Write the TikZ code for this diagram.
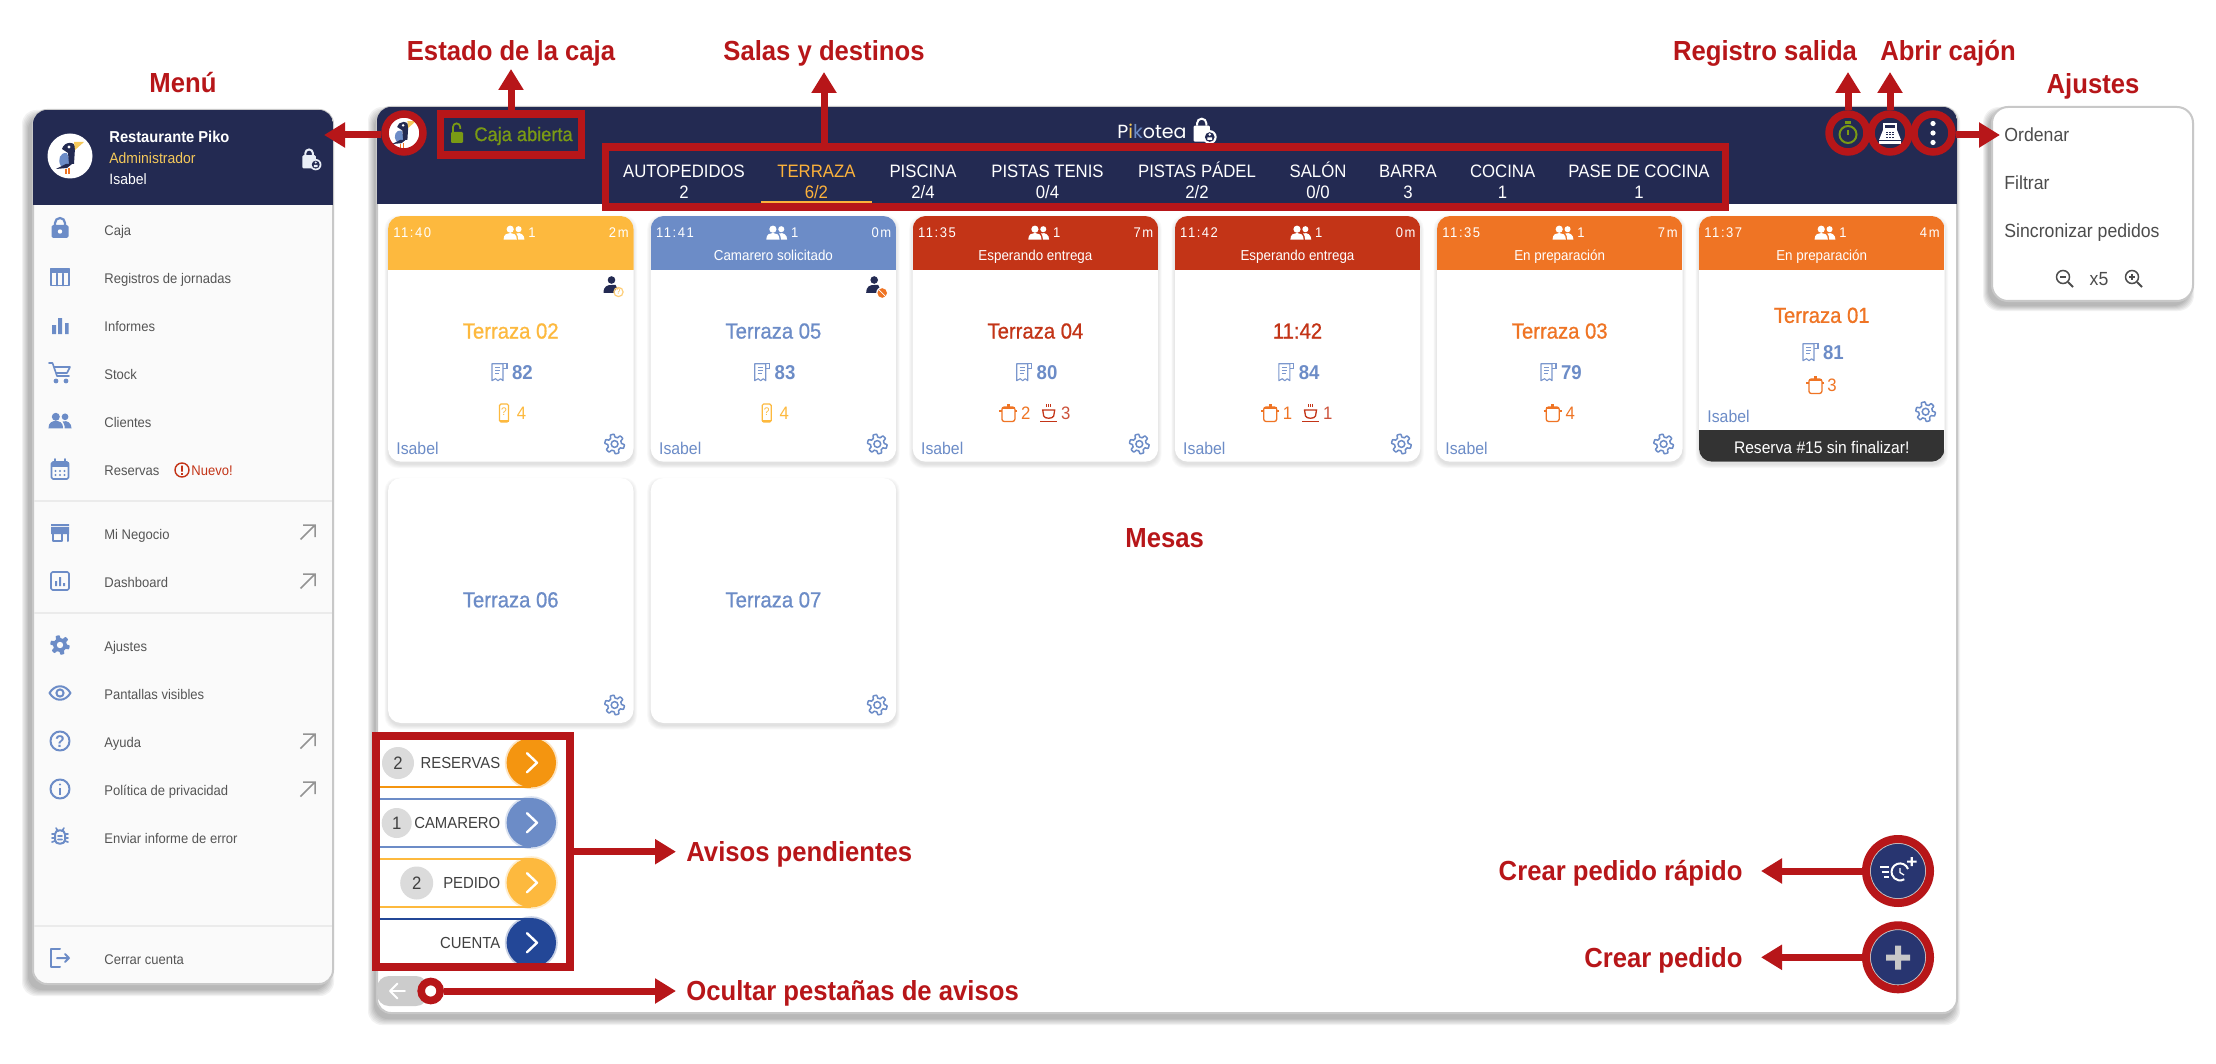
\documentclass[tikz,border=0pt]{standalone}
\usepackage{fontspec}
\setmainfont{Liberation Sans}
\newfontfamily\rb[FakeStretch=0.93]{Liberation Sans}
\newfontfamily\rbm[FakeStretch=0.93,FakeBold=0.8]{Liberation Sans}
\newfontfamily\rbs[FakeStretch=0.93,LetterSpace=11]{Liberation Sans}
\newfontfamily\pop{Poppins}
\usetikzlibrary{arrows.meta,shapes.geometric,calc}
\definecolor{anno}{HTML}{B71619}
\definecolor{navy}{HTML}{232A52}
\definecolor{tyellow}{HTML}{FDB93E}
\definecolor{tblue}{HTML}{6C8CC7}
\definecolor{tred}{HTML}{C33417}
\definecolor{torange}{HTML}{EF7424}
\definecolor{borderg}{HTML}{C8C8C8}
\definecolor{menutxt}{HTML}{555555}
\definecolor{olive}{HTML}{7A9A14}
\definecolor{admin}{HTML}{F5C95B}
\definecolor{res}{HTML}{F49510}
\definecolor{cta}{HTML}{234797}
\definecolor{fabn}{HTML}{283570}
\tikzset{
  f/.style={font=\rb\fontsize{#1}{#1}\selectfont,text height=0.72*#1 pt,text depth=0pt,inner sep=0pt},
  fm/.style={font=\rbm\fontsize{#1}{#1}\selectfont,text height=0.72*#1 pt,text depth=0pt,inner sep=0pt},
  fb/.style={font=\rb\bfseries\fontsize{#1}{#1}\selectfont,text height=0.72*#1 pt,text depth=0pt,inner sep=0pt},
  fs/.style={font=\rbs\fontsize{#1}{#1}\selectfont,text height=0.72*#1 pt,text depth=0pt,inner sep=0pt},
  lbl/.style={fb=13.8,text=anno},
  mitem/.style={f=7,text=menutxt,anchor=west},
  ring/.style={circle,draw=anno,line width=3.75pt,inner sep=0pt,minimum size=#1*0.5pt},
  redbox/.style={draw=anno,line width=3.75pt,inner sep=0pt,rectangle},
  redarrow/.style={draw=anno,line width=3.5pt,-{Triangle[length=10.5pt,width=12pt]}},
  tab/.style={f=9,text=white},
  ic/.style={line width=.8pt,line cap=round,line join=round},
}
\newcommand\softsh[9]{% x1 y1 x2 y2 r dx dy spread alpha
  \foreach \i in {0,...,5}{
    \pgfmathsetmacro\sss{#8*(5-\i)/5}
    \fill[black,opacity=#9,rounded corners=#5*0.5pt]
      ({#1+#6-\sss},{#2+#7-\sss}) rectangle ({#3+#6+\sss},{#4+#7+\sss});
  }}
% menu icons
\newcommand\icLock[3]{\begin{scope}[shift={(#1,#2)}]
  \fill[#3,rounded corners=.8pt] (-8.5,-3) rectangle (8.5,10);
  \draw[#3,line width=1.1pt] (-5,-3) -- (-5,-5) arc[start angle=180,end angle=360,radius=5] -- (5,-3);
  \fill[white] (0,3.5) circle (2.2);
\end{scope}}
\newcommand\icTable[2]{\begin{scope}[shift={(#1,#2)},tblue]
  \draw[ic] (-9,-8.5) rectangle (9,8.5);
  \fill (-9,-8.5) rectangle (9,-3.5);
  \draw[ic] (-3,-3.5) -- (-3,8.5) (3,-3.5) -- (3,8.5);
\end{scope}}
\newcommand\icBars[2]{\begin{scope}[shift={(#1,#2)}]
  \fill[tblue] (-8,-1) rectangle (-4,8) (-2,-8) rectangle (2,8) (5,-3) rectangle (8.5,8);
\end{scope}}
\newcommand\icCart[2]{\begin{scope}[shift={(#1,#2)},tblue]
  \draw[ic] (-11,-10) -- (-7.5,-10) -- (-3,3) -- (9,3) (-6,-6) -- (10,-6) -- (7,0) -- (-4,0);
  \fill (-4,8) circle (2.4) (6,8) circle (2.4);
\end{scope}}
\newcommand\icPeople[4]{\begin{scope}[shift={(#1,#2)},scale=#3]
  \fill[#4] (-4,-4) circle (3.8) (4.8,-4) circle (3.2);
  \fill[#4] (-11,7) .. controls (-11,1) and (-7,0) .. (-4,0) .. controls (-1,0) and (3,1) .. (3,7) -- cycle;
  \fill[#4] (4.5,7) .. controls (4.5,3.5) and (3.5,2) .. (2.5,0.5) .. controls (7,-1) and (11,2) .. (11,7) -- cycle;
\end{scope}}
\newcommand\icCal[2]{\begin{scope}[shift={(#1,#2)},tblue]
  \draw[ic,rounded corners=.8pt] (-8.5,-7) rectangle (8.5,10);
  \fill (-8.5,-7) rectangle (8.5,-2);
  \draw[ic] (-5,-10) -- (-5,-7) (5,-10) -- (5,-7);
  \foreach \a in {-4.5,0,4.5}{\fill (\a,2) circle (1.1) (\a,6) circle (1.1);}
\end{scope}}
\newcommand\icStore[2]{\begin{scope}[shift={(#1,#2)},tblue]
  \fill (-9,-9) rectangle (9,-7) (-9,-6) rectangle (9,1);
  \draw[ic,line width=1pt] (-7.5,1) -- (-7.5,8) -- (2,8) -- (2,1) (7.5,1) -- (7.5,8);
\end{scope}}
\newcommand\icDash[2]{\begin{scope}[shift={(#1,#2)},tblue]
  \draw[ic,rounded corners=.8pt] (-9,-9) rectangle (9,9);
  \fill (-5,0) rectangle (-3,5) (-1,-4) rectangle (1,5) (3,2) rectangle (5,5);
\end{scope}}
\newcommand\gearf[4]{\fill[#3] plot[samples=145,domain=0:360] ({#1+(#4*(8.3+1.5*max(-1,min(1,2.5*sin(6*\x)))))*cos(\x)},{#2+(#4*(8.3+1.5*max(-1,min(1,2.5*sin(6*\x)))))*sin(\x)}) -- cycle;}
\newcommand\gearo[2]{\draw[tblue,line width=.75pt,line join=round] plot[samples=145,domain=0:360] ({#1+(8.3+1.5*max(-1,min(1,2.5*sin(6*\x))))*cos(\x)},{#2+(8.3+1.5*max(-1,min(1,2.5*sin(6*\x))))*sin(\x)}) -- cycle;
  \draw[tblue,line width=.75pt] (#1,#2) circle (3.4);}
\newcommand\icEye[2]{\begin{scope}[shift={(#1,#2)},tblue]
  \draw[ic,line width=1pt] (-10.5,0) .. controls (-5,-9) and (5,-9) .. (10.5,0) .. controls (5,9) and (-5,9) .. (-10.5,0) -- cycle;
  \draw[ic,line width=1pt] (0,0) circle (3.6);
\end{scope}}
\newcommand\icHelp[2]{\begin{scope}[shift={(#1,#2)},tblue]
  \draw[ic,line width=1pt] (0,0) circle (9.5);
  \node[fb=8.5,text=tblue] (q#2) at (0,0) {?};
\end{scope}}
\newcommand\icInfo[2]{\begin{scope}[shift={(#1,#2)},tblue]
  \draw[ic,line width=1pt] (0,0) circle (9.5);
  \fill (-1,-1.5) rectangle (1,5.5);
  \fill (0,-4.5) circle (1.2);
\end{scope}}
\newcommand\icBug[2]{\begin{scope}[shift={(#1,#2)},tblue]
  \draw[ic,line width=1pt] (-5,-3) .. controls (-5,-8) and (5,-8) .. (5,-3) -- (5,3) .. controls (5,8) and (-5,8) .. (-5,3) -- cycle;
  \draw[ic] (-2,-1) -- (2,-1) (-2,2.5) -- (2,2.5) (-8,-3) -- (-5,-3) (-8,1) -- (-5,1) (-8,5) -- (-5,4) (8,-3) -- (5,-3) (8,1) -- (5,1) (8,5) -- (5,4) (-4,-9) -- (-2,-6) (4,-9) -- (2,-6);
\end{scope}}
\newcommand\icOut[2]{\begin{scope}[shift={(#1,#2)},tblue]
  \draw[ic,line width=1pt] (0,-9) -- (-9,-9) -- (-9,9) -- (0,9);
  \draw[ic,line width=1pt] (-3,0) -- (9,0) (5,-4) -- (9,0) -- (5,4);
\end{scope}}
\newcommand\icExt[2]{\begin{scope}[shift={(#1,#2)}]
  \draw[line width=.75pt,color=gray!85] (-7.5,7.5) -- (7,-7) (-5,-7) -- (7,-7) -- (7,5);
\end{scope}}
\newcommand\icLockP[4]{\begin{scope}[shift={(#1,#2)},scale=#3]
  \fill[#4,rounded corners=.6pt] (-9,-3) rectangle (5,11);
  \draw[#4,line width=1pt] (-6,-3) -- (-6,-5) arc[start angle=180,end angle=360,radius=4] -- (2,-3);
  \fill[#4] (5,7) circle (6);
  \fill[navy] (5,7) circle (4.2);
  \fill[#4] (5,4.8) circle (1.2) (3,7.2) rectangle (7,9.5);
\end{scope}}
% card icons
\newcommand\icReceipt[2]{\begin{scope}[shift={(#1,#2)},tblue!90]
  \draw[line width=.55pt,line join=round] (-7,-8) -- (4,-8) -- (4,9) -- (1.5,7) -- (-1,9) -- (-3.5,7) -- (-7,9) -- cycle;
  \draw[line width=.55pt] (4,-8) -- (8,-8) -- (8,-3) -- (4,-3);
  \draw[line width=.55pt] (-4,-4) -- (1,-4) (-4,-1) -- (1,-1) (-4,2) -- (0,2);
\end{scope}}
\newcommand\icPhone[2]{\begin{scope}[shift={(#1,#2)}]
  \draw[tyellow,line width=.6pt,rounded corners=.7pt] (-4.5,-9) rectangle (4.5,9);
  \fill[tyellow] (-4.5,6.5) rectangle (4.5,9);
  \node[f=5.5,text=tyellow] (ph#1) at (0,-1) {?};
\end{scope}}
\newcommand\icPot[2]{\begin{scope}[shift={(#1,#2)},torange]
  \draw[line width=.65pt,rounded corners=1.2pt] (-6.5,-6) rectangle (6.5,8.5);
  \fill (-6.5,-6.5) rectangle (6.5,-4.5);
  \fill (-1.5,-9.5) rectangle (1.5,-6.5);
  \draw[line width=.65pt] (-9,-2) -- (-6.5,-2) (9,-2) -- (6.5,-2);
\end{scope}}
\newcommand\icCup[2]{\begin{scope}[shift={(#1,#2)},tred]
  \draw[line width=.65pt] (-6,-3) -- (6,-3) -- (5,3) .. controls (4,6) and (-4,6) .. (-5,3) -- cycle;
  \draw[line width=.8pt] (-8.5,8.5) -- (8.5,8.5);
  \draw[line width=.5pt] (-2,-9) -- (-2,-6) (0,-9) -- (0,-6) (2,-9) -- (2,-6);
\end{scope}}
\newcommand\icPerson[3]{\begin{scope}[shift={(#1,#2)}]
  \fill[navy] (0,-6) circle (3.8);
  \fill[navy] (-8,7) .. controls (-8,0) and (-4,-1) .. (0,-1) -- (4,-1) -- (8,7) -- cycle;
  #3
\end{scope}}
% card
\newcommand\cardhead[7]{% id x0 color time mins
  \softsh{#2}{216}{#2+245.5}{461.7}{13}{0}{3}{3.5}{.02}
  \fill[white,rounded corners=6.5pt] (#2,216) rectangle ({#2+245.5},461.7);
  \begin{scope}
    \clip[rounded corners=6.5pt] (#2,216) rectangle ({#2+245.5},461.7);
    \fill[#3] (#2,216) rectangle ({#2+245.5},270);
  \end{scope}
  \node[fs=7,text=white,anchor=west] (#1time) at ({#2+5},232.7) {#4};
  \icPeople{#2+126}{233}{.95}{white}
  \node[f=7,text=white,anchor=west] (#1cnt) at ({#2+140},232.7) {1};
  \node[fs=7,text=white,anchor=east] (#1min) at ({#2+241},232.7) {#5};
  \node[f=#7,text=white] (#1st) at ({#2+122.7},255) {#6};}
\newcommand\cardmain[9]{% id x0 color title num titley numy isabely geary
  \node[fm=10.9,text=#3] (#1title) at ({#2+122.7},#6) {#4};
  \icReceipt{#2+111}{#7}
  \node[fb=10,text=tblue,anchor=west] (#1num) at ({#2+123.6},{#7+1}) {#5};
  \node[f=8.5,text=tblue,anchor=west] (#1isa) at ({#2+8},#8) {Isabel};
  \gearo{#2+226.6}{#9}}
\newcommand\cardempty[3]{% id x0 title
  \softsh{#2}{478}{#2+245.5}{723}{13}{0}{3}{3.5}{.02}
  \fill[white,rounded corners=6.5pt] (#2,478) rectangle ({#2+245.5},723);
  \node[fm=10.9,text=tblue] (#1title) at ({#2+122.7},599.5) {#3};
  \gearo{#2+226.6}{705}}
% aviso tabs
\newcommand\avisotab[4]{% id y color text
  \fill[#3,opacity=.25] (531.3,#2) circle (26.5);
  \fill[#3] (531.3,#2) circle (24.7);
  \draw[white,line width=1.2pt,line cap=round,line join=round] (527,{#2-9.5}) -- (537,#2) -- (527,{#2+9.5});
  \node[f=8,text=black!75,anchor=east] (#1txt) at (500.7,#2) {#4};}
\begin{document}
\begin{tikzpicture}[x=0.5pt,y=-0.5pt]
\useasboundingbox (0,0) rectangle (2216,1064);
\fill[white] (0,0) rectangle (2216,1064);

% ---------- left menu ----------
\softsh{33}{110}{333}{984}{14}{-5}{6}{6}{.05}
\fill[white!98!black,rounded corners=7pt] (33,110) rectangle (333,984);
\draw[borderg,line width=1pt,rounded corners=7pt] (33,110) rectangle (333,984);
\begin{scope}
  \clip[rounded corners=7pt] (33,110) rectangle (333,984);
  \fill[navy] (33,110) rectangle (333,205);
\end{scope}
\fill[white] (70,156) circle (22.5);
\begin{scope}[shift={(70,156)}]
  \fill[tblue] (-9,10) .. controls (-13,4) and (-10,-4) .. (-3,-3) -- (1,9) -- cycle;
  \fill[navy] (-8,-7) .. controls (-6,-15) and (6,-15) .. (5,-8) -- (4,8) -- (-1,8) -- (-2,-3) -- cycle;
  \fill[navy] (-14,13) -- (-4,8) -- (2,8) -- (-3,12) -- cycle;
  \fill[admin] (4,-14) -- (14,-14) -- (5,-6) -- cycle;
  \fill[white] (-1,-9) circle (1.6);
  \draw[torange,line width=.6pt] (-4,13) -- (-4,18) (-1,12) -- (-1,18);
\end{scope}
\node[fb=7.9,text=white,anchor=west] (mhead) at (109,137) {Restaurante Piko};
\node[f=7.5,text=admin,anchor=west] (mrole) at (109,158) {Administrador};
\node[f=7.5,text=white,anchor=west] (muser) at (109,179) {Isabel};
\icLockP{311}{158}{.95}{white!85!tblue}

\draw[black!8,line width=1pt] (34,501) -- (332,501) (34,613) -- (332,613) (34,926) -- (332,926);

\icLock{60}{228}{tblue}
\icTable{60}{277}
\icBars{60}{326}
\icCart{60}{373}
\icPeople{60}{421}{1.05}{tblue}
\icCal{60}{469}
\icStore{60}{533}
\icDash{60}{581}
\gearf{60}{645}{tblue}{1}\fill[white!98!black] (60,645) circle (3.2);
\icEye{60}{693}
\icHelp{60}{741}
\icInfo{60}{789}
\icBug{60}{837}
\icOut{60}{958}

\node[mitem] (m1) at (104,230) {Caja};
\node[mitem] (m2) at (104,278) {Registros de jornadas};
\node[mitem] (m3) at (104,326) {Informes};
\node[mitem] (m4) at (104,374) {Stock};
\node[mitem] (m5) at (104,422) {Clientes};
\node[mitem] (m6) at (104,470) {Reservas};
\begin{scope}[shift={(182,470)}]
  \draw[tred,line width=.7pt] (0,0) circle (7);
  \fill[tred] (-.9,-4.5) rectangle (.9,1.5) (-.9,3) rectangle (.9,4.8);
\end{scope}
\node[f=7,text=tred,anchor=west] (m6b) at (191,470) {Nuevo!};
\node[mitem] (m7) at (104,534) {Mi Negocio};
\node[mitem] (m8) at (104,582) {Dashboard};
\node[mitem] (m9) at (104,646) {Ajustes};
\node[mitem] (m10) at (104,694) {Pantallas visibles};
\node[mitem] (m11) at (104,742) {Ayuda};
\node[mitem] (m12) at (104,790) {Política de privacidad};
\node[mitem] (m13) at (104,838) {Enviar informe de error};
\node[mitem] (m14) at (104,959) {Cerrar cuenta};
\icExt{308}{532}
\icExt{308}{581}
\icExt{308}{741}
\icExt{308}{789}

% ---------- main panel ----------
\softsh{377}{107}{1957}{1013}{14}{-3}{6}{6}{.05}
\fill[white,rounded corners=7pt] (377,107) rectangle (1957,1013);
\draw[borderg,line width=1pt,rounded corners=7pt] (377,107) rectangle (1957,1013);
\begin{scope}
  \clip[rounded corners=7pt] (377,107) rectangle (1957,1013);
  \fill[navy] (377,107) rectangle (1957,204);
\end{scope}

% header content
\fill[white] (404,133) circle (20);
\begin{scope}[shift={(404,133)},scale=.85]
  \fill[tblue] (-9,10) .. controls (-13,4) and (-10,-4) .. (-3,-3) -- (1,9) -- cycle;
  \fill[navy] (-8,-7) .. controls (-6,-15) and (6,-15) .. (5,-8) -- (4,8) -- (-1,8) -- (-2,-3) -- cycle;
  \fill[navy] (-14,13) -- (-4,8) -- (2,8) -- (-3,12) -- cycle;
  \fill[admin] (4,-14) -- (14,-14) -- (5,-6) -- cycle;
  \fill[white] (-1,-9) circle (1.6);
  \draw[torange,line width=.6pt] (-4,13) -- (-4,18) (-1,12) -- (-1,18);
\end{scope}
\begin{scope}[shift={(457,133)}]
  \fill[olive,rounded corners=.6pt] (-6,-1) rectangle (6,10);
  \draw[olive,line width=.9pt] (-4,-1) -- (-4,-6) arc[start angle=180,end angle=360,radius=3.6] -- (3.2,-4);
\end{scope}
\node[fm=9.8,text=olive,anchor=west] (caja) at (474,134) {Caja abierta};
\node[font=\pop\fontsize{9.5}{10}\selectfont,text=white,inner sep=0pt,anchor=west] (piko) at (1117,131) {P\textcolor{admin}{i}\textcolor{tblue}{k}otea};
\icLockP{1204}{129}{1.15}{white}

\foreach \nm/\cx/\a/\b in {t1/684/AUTOPEDIDOS/2,t3/923/PISCINA/{2/4},t4/1047.5/PISTAS TENIS/{0/4},t5/1197/PISTAS PÁDEL/{2/2},t6/1318/SALÓN/{0/0},t7/1408/BARRA/3,t8/1502.6/COCINA/1,t9/1639/PASE DE COCINA/1}{
  \node[tab] (\nm a) at (\cx,171) {\a};
  \node[tab] (\nm b) at (\cx,192) {\b};
}
\node[tab,text=tyellow!90!torange] (t2a) at (816.4,171) {TERRAZA};
\node[tab,text=tyellow!90!torange] (t2b) at (816.4,192) {6/2};
\fill[tyellow!90!torange] (761,200.7) rectangle (872,202.9);

% clock
\begin{scope}[shift={(1848,133)}]
  \draw[olive,line width=1pt] (0,1.5) circle (8.5);
  \fill[olive] (-3,-11.5) rectangle (3,-9.2);
  \draw[olive,line width=.7pt] (0,-3) -- (0,2);
\end{scope}
% register
\begin{scope}[shift={(1890,133)},white]
  \fill (-7,-10) rectangle (7,-3);
  \fill[navy] (-5,-8) rectangle (5,-5);
  \fill (-7,-3) -- (7,-3) -- (11,7) -- (-11,7) -- cycle;
  \fill (-11,8.5) rectangle (11,11);
  \foreach \a in {-3,0,3}{\foreach \b in {-0.5,2,4.5}{\fill[navy] (\a-.7,\b-.5) rectangle (\a+.7,\b+.5);}}
\end{scope}
% dots
\fill[white] (1933,123.5) circle (2.6) (1933,133) circle (2.6) (1933,142.5) circle (2.6);

% ---------- cards ----------
\cardhead{c1}{388}{tyellow}{11:40}{2m}{}{7.2}
\cardmain{c1}{388}{tyellow}{Terraza 02}{82}{330.7}{371.7}{448}{444}
\icPerson{611.5}{286}{\fill[white] (8,7) circle (5.2);\draw[tyellow!70,line width=.6pt] (7,6) circle (4.6);\node[f=4,text=tyellow] (pq1) at (7,6) {?};}
\icPhone{504}{413}
\node[f=9,text=tyellow] (c1q) at (521.6,413.5) {4};

\cardhead{c2}{650.7}{tblue}{11:41}{0m}{Camarero solicitado}{7.2}
\cardmain{c2}{650.7}{tblue}{Terraza 05}{83}{330.7}{371.7}{448}{444}
\icPerson{874.2}{286}{\fill[white] (8,7) circle (6);\fill[torange] (8,7) circle (4.8);\draw[white,line width=.35pt] (4,3) -- (12,11);}
\icPhone{766.7}{413}
\node[f=9,text=tyellow] (c2q) at (784.3,413.5) {4};

\cardhead{c3}{912.7}{tred}{11:35}{7m}{Esperando entrega}{7.2}
\cardmain{c3}{912.7}{tred}{Terraza 04}{80}{330.7}{371.7}{448}{444}
\icPot{1008.4}{413}
\node[f=9,text=torange] (c3a) at (1025.7,413.5) {2};
\icCup{1048.7}{413}
\node[f=9,text=tred!85] (c3b) at (1065.7,413.5) {3};

\cardhead{c4}{1174.8}{tred}{11:42}{0m}{Esperando entrega}{7.2}
\cardmain{c4}{1174.8}{tred}{11:42}{84}{330.7}{371.7}{448}{444}
\icPot{1270.2}{413}
\node[f=9,text=torange] (c4a) at (1287.4,413.5) {1};
\icCup{1310.5}{413}
\node[f=9,text=tred!85] (c4b) at (1327.8,413.5) {1};

\cardhead{c5}{1437}{torange}{11:35}{7m}{En preparación}{7.2}
\cardmain{c5}{1437}{torange}{Terraza 03}{79}{330.7}{371.7}{448}{444}
\icPot{1552.7}{413}
\node[f=9,text=torange] (c5a) at (1570.3,413.5) {4};

\cardhead{c6}{1699}{torange}{11:37}{4m}{En preparación}{7.2}
\cardmain{c6}{1699}{torange}{Terraza 01}{81}{315}{351.7}{416.7}{411.7}
\icPot{1815.4}{385}
\node[f=9,text=torange] (c6a) at (1832,385.5) {3};
\begin{scope}
  \clip[rounded corners=6.5pt] (1699,216) rectangle (1944.5,461.7);
  \fill[black!80] (1699,430) rectangle (1944.5,461.7);
\end{scope}
\node[f=8.4,text=white] (c6r) at (1821.7,447) {Reserva \#15 sin finalizar!};

\cardempty{c7}{388}{Terraza 06}
\cardempty{c8}{650.7}{Terraza 07}

% ---------- aviso tabs ----------
\draw[res,line width=1pt] (380,786.7) -- (531,786.7);
\draw[tblue,line width=1pt] (380,798.7) -- (531,798.7) (380,846.7) -- (531,846.7);
\draw[tyellow,line width=1pt] (380,859) -- (531,859) (380,906.7) -- (531,906.7);
\draw[cta,line width=1pt] (380,918.7) -- (531,918.7);
\avisotab{a1}{762.7}{res}{RESERVAS}
\avisotab{a2}{822.7}{tblue}{CAMARERO}
\avisotab{a3}{882.7}{tyellow}{PEDIDO}
\avisotab{a4}{942.7}{cta}{CUENTA}
\node[circle,fill=black!14,minimum size=16pt,inner sep=0pt,font=\rb\fontsize{9}{9}\selectfont,text=black!75] (b1) at (398,763) {2};
\node[circle,fill=black!14,minimum size=15pt,inner sep=0pt,font=\rb\fontsize{9}{9}\selectfont,text=black!75] (b2) at (396.7,823) {1};
\node[circle,fill=black!14,minimum size=16.5pt,inner sep=0pt,font=\rb\fontsize{9}{9}\selectfont,text=black!75] (b3) at (416.7,883) {2};

% hide tab
\fill[black!20,rounded corners=6pt] (377,976) rectangle (428,1006);
\draw[white,line width=.9pt,line cap=round,line join=round] (390,991) -- (405,991) (397.5,983.5) -- (390,991) -- (397.5,998.5);

% ---------- FABs ----------
\node[circle,fill=fabn,draw=borderg,line width=.8pt,minimum size=28pt,inner sep=0pt] (fabq) at (1898,871) {};
\node[circle,fill=fabn,draw=borderg,line width=.8pt,minimum size=28pt,inner sep=0pt] (fabp) at (1898,957.3) {};
\begin{scope}[shift={(1900,872)}]
  \draw[white,line width=1pt] (8,-3) arc[start angle=-20,end angle=-300,radius=8.5];
  \draw[white,line width=.65pt] (0,-4) -- (0,0.5) -- (4,3);
  \fill[white] (7,-11.5) rectangle (16.5,-9.5) (10.7,-15) rectangle (12.8,-6);
  \draw[white,line width=.55pt] (-20,-5) -- (-11,-5) (-18,0) -- (-11,0) (-16,5) -- (-11,5);
\end{scope}
\fill[borderg] (1886,954.5) rectangle (1910,960.5) (1895,945.5) rectangle (1901,969.5);

% ---------- ajustes panel ----------
\softsh{1992}{107}{2193}{301}{16}{-4}{5}{5}{.05}
\fill[white,rounded corners=8pt] (1992,107) rectangle (2193,301);
\draw[borderg,line width=1pt,rounded corners=8pt] (1992,107) rectangle (2193,301);
\node[f=9.5,text=black!70,anchor=west] (aj1) at (2004,135) {Ordenar};
\node[f=9.5,text=black!70,anchor=west] (aj2) at (2004,183) {Filtrar};
\node[f=9.5,text=black!70,anchor=west] (aj3) at (2004,231) {Sincronizar pedidos};
\node[f=9.5,text=black!70] (aj4) at (2099,279) {x5};
\begin{scope}[shift={(2064,278)},black!70]
  \draw[line width=.75pt] (-1,-1) circle (6.5);
  \draw[line width=1pt] (4,4) -- (9,9);
  \draw[line width=.6pt] (-4,-1) -- (2,-1);
\end{scope}
\begin{scope}[shift={(2133,278)},black!70]
  \draw[line width=.75pt] (-1,-1) circle (6.5);
  \draw[line width=1pt] (4,4) -- (9,9);
  \draw[line width=.6pt] (-4,-1) -- (2,-1) (-1,-4) -- (-1,2);
\end{scope}

% ---------- annotation shapes ----------
\node[ring=38] (rlogo) at (404,133) {};
\node[redbox,minimum width=70.5pt,minimum height=20.5pt] (bcaja) at (511,134.7) {};
\node[redbox,minimum width=560pt,minimum height=30pt] (bsalas) at (1165.7,177) {};
\node[ring=38] (rclock) at (1848,133) {};
\node[ring=38] (rreg) at (1890,133) {};
\node[ring=38] (rdots) at (1933,133) {};
\node[redbox,minimum width=97pt,minimum height=115.5pt] (bavisos) at (473,851.5) {};
\node[circle,draw=anno,line width=3.8pt,fill=white,minimum size=9.5pt,inner sep=0pt] (rhide) at (430.7,991) {};
\node[circle,draw=anno,line width=4pt,minimum size=32pt,inner sep=0pt] (rfabq) at (1898,871) {};
\node[circle,draw=anno,line width=4pt,minimum size=32pt,inner sep=0pt] (rfabp) at (1898,957.3) {};

% ---------- labels ----------
\node[lbl] (lmenu) at (183,83) {Menú};
\node[lbl] (lestado) at (511,51) {Estado de la caja};
\node[lbl] (lsalas) at (824,51) {Salas y destinos};
\node[lbl] (lreg) at (1765,51) {Registro salida};
\node[lbl] (labrir) at (1948,51) {Abrir cajón};
\node[lbl] (lajustes) at (2093,84) {Ajustes};
\node[lbl] (lmesas) at (1164.6,538) {Mesas};
\node[lbl,anchor=west] (lavisos) at (686,851.7) {Avisos pendientes};
\node[lbl,anchor=west] (locultar) at (686,991) {Ocultar pestañas de avisos};
\node[lbl,anchor=east] (lrapido) at (1743,871) {Crear pedido rápido};
\node[lbl,anchor=east] (lcrear) at (1743,957.3) {Crear pedido};

% ---------- connectors ----------
\coordinate (tmenu) at (324,135);
\coordinate (testado) at (511,69);
\coordinate (tsalas) at (824,72);
\coordinate (tclock) at (1848,72);
\coordinate (treg) at (1890,72);
\coordinate (tajustes) at (2000,135);
\draw[redarrow] (rlogo.west |- tmenu) -- (tmenu);
\draw[redarrow] (bcaja.north -| testado) -- (testado);
\draw[redarrow] (bsalas.north -| tsalas) -- (tsalas);
\draw[redarrow] (rclock.north) -- (tclock);
\draw[redarrow] (rreg.north) -- (treg);
\draw[redarrow] (rdots.east |- tajustes) -- (tajustes);
\draw[redarrow] (bavisos.east |- lavisos.west) -- ($(lavisos.west)+(-10,0)$);
\draw[redarrow] (rhide.east) -- ($(locultar.west)+(-10,0)$);
\draw[redarrow] (rfabq.west) -- ($(lrapido.east)+(18,0)$);
\draw[redarrow] (rfabp.west) -- ($(lcrear.east)+(18,0)$);
\end{tikzpicture}
\end{document}
